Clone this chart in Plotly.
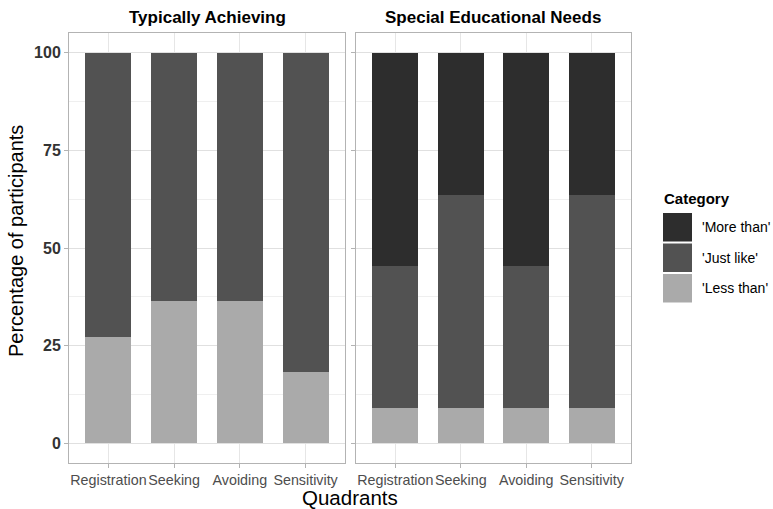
import plotly.graph_objects as go

quadrants = ["Registration", "Seeking", "Avoiding", "Sensitivity"]
groups = ["Typically Achieving", "Special Educational Needs"]
categories = ["'Less than'", "'Just like'", "'More than'"]
colors = {"'Less than'": "#aaaaaa", "'Just like'": "#525252", "'More than'": "#2d2d2d"}

ta_less = [27.3, 36.4, 36.4, 18.2]
ta_just = [72.7, 63.6, 63.6, 81.8]
ta_more = [0.0, 0.0, 0.0, 0.0]

sen_less = [9.1, 9.1, 9.1, 9.1]
sen_just = [36.4, 54.5, 36.4, 54.5]
sen_more = [54.5, 36.4, 54.5, 36.4]

data = {
    "Typically Achieving": {"'Less than'": ta_less, "'Just like'": ta_just, "'More than'": ta_more},
    "Special Educational Needs": {"'Less than'": sen_less, "'Just like'": sen_just, "'More than'": sen_more},
}

fig = go.Figure()
for gi, g in enumerate(groups):
    xa = "x" if gi == 0 else "x2"
    ya = "y" if gi == 0 else "y2"
    for c in categories:
        fig.add_trace(go.Bar(
            x=quadrants, y=data[g][c], name=c, xaxis=xa, yaxis=ya,
            marker=dict(color=colors[c], line=dict(width=0)),
            width=0.7, showlegend=False,
        ))

font_family = "Liberation Sans, Arial, sans-serif"
OFF = 0  # page body margin removed by post_script
W, H = 773, 509
l, t = 69 - OFF, 33 - OFF
pr, pb = 631 - OFF, 463 - OFF
r, b = W - pr, H - pb
pw, ph = pr - l, pb - t


def px(xs):
    return (xs - OFF - l) / pw


def py(ys):
    return (pb - (ys - OFF)) / ph


d1 = px(345)
d2 = px(356)

common_x = dict(
    type="category", range=[-0.6, 3.6], showgrid=True, gridcolor="#e6e6e6", gridwidth=1,
    ticks="outside", ticklen=4, tickcolor="#b3b3b3", tickangle=0, automargin=False,
    showline=True, linecolor="#b3b3b3", mirror=True, zeroline=False,
    tickfont=dict(family=font_family, size=14.3, color="#4d4d4d"),
)
common_y = dict(
    range=[-5, 105], tickvals=[0, 25, 50, 75, 100], showgrid=True, gridcolor="#e0e0e0", gridwidth=1,
    minor=dict(tickvals=[12.5, 37.5, 62.5, 87.5], showgrid=True, gridcolor="#efefef", gridwidth=0.7),
    showline=True, linecolor="#b3b3b3", mirror=True, zeroline=False, automargin=False,
    ticks="outside", ticklen=4, tickcolor="#b3b3b3",
)

annotations = [
    dict(text="<b>Typically Achieving</b>", x=d1 / 2, y=py(18), xref="paper", yref="paper",
         xanchor="center", yanchor="middle", showarrow=False, font=dict(size=17, color="black")),
    dict(text="<b>Special Educational Needs</b>", x=(d2 + 1) / 2, y=py(18), xref="paper", yref="paper",
         xanchor="center", yanchor="middle", showarrow=False, font=dict(size=17, color="black")),
    dict(text="Quadrants", x=0.5, y=py(498), xref="paper", yref="paper",
         xanchor="center", yanchor="middle", showarrow=False, font=dict(size=20.5, color="black")),
    dict(text="Percentage of participants", x=px(16), y=py(241), xref="paper", yref="paper",
         xanchor="center", yanchor="middle", textangle=-90, showarrow=False,
         font=dict(size=20, color="black")),
    dict(text="<b>Category</b>", x=px(662), y=py(198), xref="paper", yref="paper",
         xanchor="left", yanchor="middle", showarrow=False, font=dict(size=15, color="black")),
]

shapes = []
legend_order = ["'More than'", "'Just like'", "'Less than'"]
for i, c in enumerate(legend_order):
    top = 213 + i * 30.5
    bot = top + 28.5
    shapes.append(dict(type="rect", xref="paper", yref="paper", x0=px(663), x1=px(692),
                       y0=py(bot), y1=py(top), fillcolor=colors[c], line=dict(width=0)))
    annotations.append(dict(text=c, x=px(700), y=py((top + bot) / 2), xref="paper", yref="paper",
                            xanchor="left", yanchor="middle", showarrow=False,
                            font=dict(size=14, color="black")))

fig.update_layout(
    width=W, height=H, barmode="stack",
    plot_bgcolor="white", paper_bgcolor="white",
    margin=dict(l=l, r=r, t=t, b=b, autoexpand=False),
    font=dict(family=font_family),
    showlegend=False,
    xaxis=dict(domain=[0, d1], anchor="y", **common_x),
    xaxis2=dict(domain=[d2, 1], anchor="y2", **common_x),
    yaxis=dict(domain=[0, 1], anchor="x",
               tickfont=dict(family=font_family, size=16, color="#333333", weight="bold"),
               **common_y),
    yaxis2=dict(domain=[0, 1], anchor="x2", matches="y", showticklabels=False, **common_y),
    annotations=annotations,
    shapes=shapes,
)

fig.write_html("out.html", config={"displayModeBar": False},
               post_script="document.body.style.margin='0px';")
